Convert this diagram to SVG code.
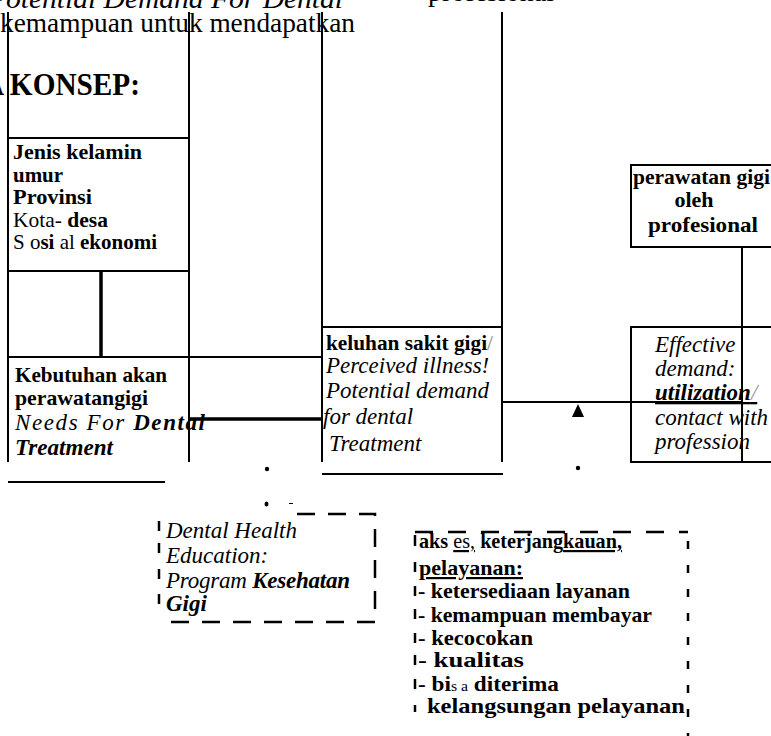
<svg xmlns="http://www.w3.org/2000/svg" width="771" height="736" viewBox="0 0 771 736">
<defs>
<style>
text{font-family:"Liberation Serif","Times New Roman",serif;fill:#000}
.big{font-size:28px}
.it{font-size:23px;font-style:italic}
.bi{font-style:italic;font-weight:bold}
.nd{font-size:22px}
.b{font-weight:bold}
.ln{stroke:#000;stroke-width:2;fill:none}
.thk{stroke:#000;stroke-width:3.5;fill:none}
.dash{stroke:#000;stroke-width:2.5;fill:none}
</style>
</defs>
<rect width="771" height="736" fill="#fff"/>

<g id="header">
<text class="big" x="-12" y="8" font-style="italic" textLength="355" lengthAdjust="spacingAndGlyphs">Potential Demand For Dental</text>
<text class="big" x="428" y="1">profesional</text>
<text class="big" x="0" y="32" textLength="355" lengthAdjust="spacingAndGlyphs">kemampuan untuk mendapatkan</text>
<text x="-17" y="95" font-size="31" font-weight="bold" textLength="157" lengthAdjust="spacingAndGlyphs">A KONSEP:</text>
</g>

<g id="connectors">
<path class="ln" d="M8 12V462M189 12V462M322 12V462M502 12V462"/>
<path class="ln" d="M8 138H189M8 271H189M8 357H322M322 327H502M502 402H742M742 247V462"/>
<path class="thk" d="M101 271V357M189 419H322"/>
<path class="ln" d="M8 482H165M322 474H503"/>
<polygon points="578,404 572,417 584,417" fill="#000"/>
<circle cx="267" cy="469" r="2.2"/>
<circle cx="578" cy="468" r="2.2"/>
<ellipse cx="266.5" cy="504" rx="2" ry="2.5"/>
<path d="M289 503.5H293" stroke="#000" stroke-width="1"/>
</g>

<g id="node-demografi">
<text class="nd b" x="13" y="159" textLength="129" lengthAdjust="spacingAndGlyphs">Jenis kelamin</text>
<text class="nd b" x="13" y="182" textLength="50" lengthAdjust="spacingAndGlyphs">umur</text>
<text class="nd b" x="13" y="204" textLength="79" lengthAdjust="spacingAndGlyphs">Provinsi</text>
<text class="nd" x="13" y="227" textLength="95" lengthAdjust="spacingAndGlyphs">Kota- <tspan class="b">desa</tspan></text>
<text class="nd" x="13" y="249" textLength="144" lengthAdjust="spacingAndGlyphs">S o<tspan class="b">si</tspan> al <tspan class="b">ekonomi</tspan></text>
</g>

<g id="node-kebutuhan">
<text class="nd b" x="15" y="382" textLength="152" lengthAdjust="spacingAndGlyphs">Kebutuhan akan</text>
<text class="nd b" x="15" y="405" textLength="133" lengthAdjust="spacingAndGlyphs">perawatangigi</text>
<text class="it" x="15" y="430" textLength="190">Needs For  <tspan class="bi">Dental</tspan></text>
<text class="it bi" x="15" y="455" textLength="98" lengthAdjust="spacingAndGlyphs">Treatment</text>
</g>

<g id="node-keluhan">
<text class="nd b" x="326" y="350" textLength="167" lengthAdjust="spacingAndGlyphs">keluhan sakit gigi<tspan font-weight="normal" fill="#888">/</tspan></text>
<text class="it" x="326" y="373">Perceived illness!</text>
<text class="it" x="326" y="398">Potential demand</text>
<text class="it" x="323" y="424">for dental</text>
<text class="it" x="329" y="451">Treatment</text>
</g>

<g id="node-perawatan">
<rect class="ln" x="631" y="165" width="160" height="82"/>
<text class="nd b" x="633" y="184" textLength="137" lengthAdjust="spacingAndGlyphs">perawatan gigi</text>
<text class="nd b" x="694" y="207" text-anchor="middle">oleh</text>
<text class="nd b" x="703" y="232" text-anchor="middle" textLength="110" lengthAdjust="spacingAndGlyphs">profesional</text>
</g>

<g id="node-effective">
<rect class="ln" x="631" y="327" width="160" height="135"/>
<text class="it" x="655" y="352">Effective</text>
<text class="it" x="655" y="376">demand:</text>
<text class="it bi" x="655" y="400" text-decoration="underline">utilization<tspan fill="#999" font-weight="normal">/</tspan></text>
<text class="it" x="655" y="425">contact with</text>
<text class="it" x="655" y="449">profession</text>
</g>

<g id="node-dhe">
<path class="dash" d="M297 514H375V622" stroke-dasharray="18 13"/>
<path class="dash" d="M375 622H159" stroke-dasharray="18 13"/>
<path class="dash" d="M159 521V531M159 543V553M159 569V579M159 594V604"/>
<text class="it" x="166" y="538">Dental Health</text>
<text class="it" x="166" y="563">Education:</text>
<text class="it" x="166" y="588" textLength="184">Program <tspan class="bi">Kesehatan</tspan></text>
<text class="it bi" x="166" y="611">Gigi</text>
</g>

<g id="node-akses">
<path class="dash" d="M415 532H688" stroke-dasharray="18 15"/>
<path class="dash" d="M688 541V736" stroke-dasharray="8 16"/>
<path class="dash" d="M415 535V546M415 562V572M415 586V596M415 609V619M415 633V643M415 655V665M415 679V689M415 705V712"/>
<text class="nd" x="419" y="548" textLength="203" lengthAdjust="spacingAndGlyphs"><tspan class="b">aks</tspan> <tspan text-decoration="underline">es,</tspan> <tspan class="b">keterjang</tspan><tspan class="b" text-decoration="underline">kauan,</tspan></text>
<text class="nd b" x="419" y="575" text-decoration="underline" textLength="104" lengthAdjust="spacingAndGlyphs">pelayanan:</text>
<text class="nd b" x="418" y="598" textLength="212" lengthAdjust="spacingAndGlyphs">- ketersediaan layanan</text>
<text class="nd b" x="418" y="622" textLength="234" lengthAdjust="spacingAndGlyphs">- kemampuan membayar</text>
<text class="nd b" x="418" y="645" textLength="115" lengthAdjust="spacingAndGlyphs">- kecocokan</text>
<text class="nd b" x="418" y="667" textLength="106" lengthAdjust="spacingAndGlyphs">- kualitas</text>
<text class="nd" x="418" y="691" textLength="141" lengthAdjust="spacingAndGlyphs"><tspan class="b">- bi</tspan><tspan font-size="15">s a</tspan> <tspan class="b">diterima</tspan></text>
<text class="nd b" x="427" y="713" textLength="258" lengthAdjust="spacingAndGlyphs">kelangsungan pelayanan</text>
</g>
</svg>
